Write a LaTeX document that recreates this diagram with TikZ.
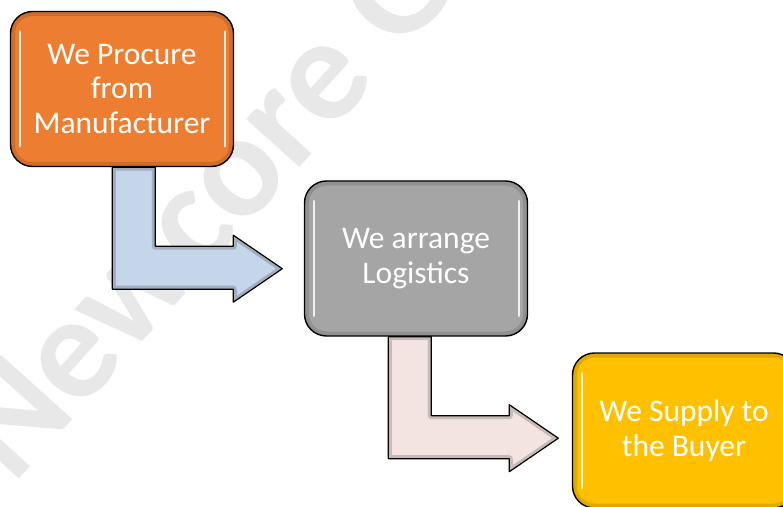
\documentclass[tikz,border=0pt]{standalone}
\usepackage{fontspec}
\setmainfont{Carlito}
\usetikzlibrary{positioning, backgrounds}
\definecolor{procurecolor}{RGB}{237, 125, 49}
\definecolor{logisticscolor}{RGB}{165, 165, 165}
\definecolor{supplycolor}{RGB}{255, 192, 0}
\definecolor{bluearrow}{RGB}{197, 213, 234}
\definecolor{pinkarrow}{RGB}{243, 228, 225}

% outline of the bent block arrow, origin = top left corner of the stem
\newcommand{\arrowoutline}{(0,0) -- (43,0) -- (43,-79) -- (121,-79) -- (121,-68)
    -- (170,-101.5) -- (121,-135) -- (121,-122) -- (0,-122) -- cycle}
\newcommand{\bendarrow}[1]{%
  \fill[#1] \arrowoutline;
  \begin{scope}
    \clip \arrowoutline;
    \draw[black, line width=7pt, opacity=0.18, line join=round] \arrowoutline;
  \end{scope}
  \draw[arrowshape] \arrowoutline;}

\begin{document}
\begin{tikzpicture}[
    x=1pt, y=1pt,
    stage/.style={draw=black, line width=1.4pt, rounded corners=22pt,
      minimum width=223pt, minimum height=155pt, align=center, text=white,
      font=\fontsize{31.5}{34.5}\selectfont,
      path picture={
        \draw[black, line width=9pt, opacity=0.12, rounded corners=22pt]
          (path picture bounding box.south west) rectangle (path picture bounding box.north east);
        \draw[white, line width=2pt, opacity=0.85, line cap=round]
          ([xshift=9pt, yshift=-20pt]path picture bounding box.north west)
          -- ([xshift=9pt, yshift=20pt]path picture bounding box.south west);
        \draw[white, line width=2pt, opacity=0.85, line cap=round]
          ([xshift=-9pt, yshift=-20pt]path picture bounding box.north east)
          -- ([xshift=-9pt, yshift=20pt]path picture bounding box.south east);}},
    arrowshape/.style={draw=black, line width=1.2pt, line join=round}
]
\useasboundingbox (0,0) rectangle (783,506);
\clip (0,0) rectangle (783,506);

% stages
\node[stage, fill=procurecolor] (procure) at (122,417) {We Procure\\from\\Manufacturer};
\node[stage, fill=logisticscolor] (logistics) at (416,247.5) {We arrange\\Logistics};
\node[stage, fill=supplycolor] (supply) at (684,75.5) {We Supply to\\the Buyer};

% bent arrows between the stages
\begin{scope}[on background layer]
  % watermark
  \node[text=black!9, rotate=48, inner sep=0pt, anchor=base west,
    font=\bfseries\fontsize{148}{148}\selectfont] (mark) at (13,20) {Newcore G};
  \begin{scope}[shift={([xshift=102.5pt]procure.south west)}]
    \bendarrow{bluearrow}
  \end{scope}
  \begin{scope}[shift={([xshift=84.5pt]logistics.south west)}]
    \bendarrow{pinkarrow}
  \end{scope}
\end{scope}

\end{tikzpicture}
\end{document}
